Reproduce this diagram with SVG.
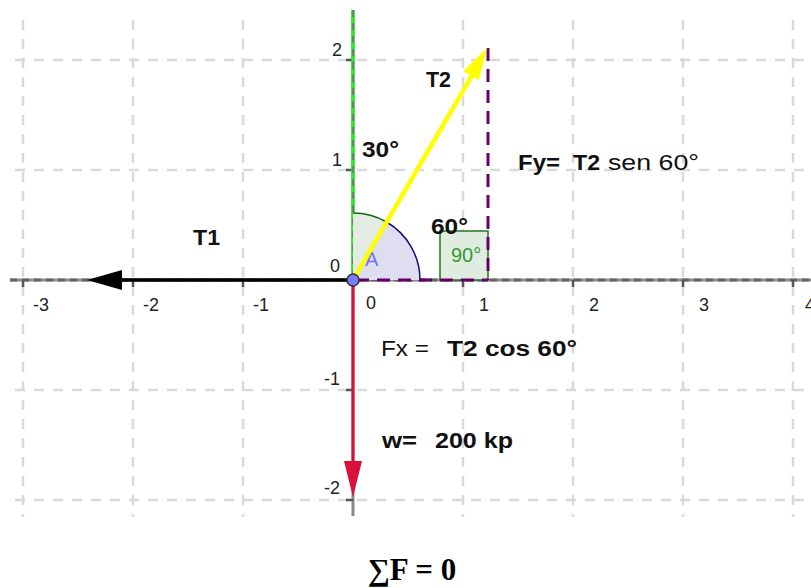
<svg xmlns="http://www.w3.org/2000/svg" width="811" height="588" viewBox="0 0 811 588">
<style>
.grid{stroke:#d9d9d9;stroke-width:2.5;stroke-dasharray:10 9;fill:none}
.axis{stroke:#8a8a8a;stroke-width:3;fill:none}
.axisd{stroke:#666;stroke-width:3;stroke-dasharray:7 5;fill:none}
.tick{stroke:#555;stroke-width:2.5}
.lbl{font-family:"Liberation Sans",Arial,sans-serif;font-size:18px;fill:#222}
.b{font-family:"Liberation Sans",Arial,sans-serif;font-size:22px;font-weight:bold;fill:#111}
.r{font-family:"Liberation Sans",Arial,sans-serif;font-size:22px;fill:#111}
.pur{stroke:#660066;stroke-width:3;stroke-dasharray:13 8;fill:none}
</style>
<rect width="811" height="588" fill="#fff"/>
<g id="grid">
<path class="grid" d="M23,20V517M133,20V517M243,20V517M463,20V517M573,20V517M683,20V517M793,20V517"/>
<path class="grid" d="M15,60H811M15,170H811M15,390H811M15,500H811"/>
</g>
<g id="axes">
<line class="axis" x1="10" y1="280" x2="811" y2="280"/>
<line class="axisd" x1="10" y1="280" x2="811" y2="280"/>
<line class="axis" x1="353" y1="10" x2="353" y2="516"/>
<path class="tick" d="M23,280V287M133,280V287M243,280V287M463,280V287M573,280V287M683,280V287M793,280V287M346,60H353M346,170H353M346,390H353M346,500H353"/>
<text class="lbl" x="33" y="311">-3</text>
<text class="lbl" x="143" y="311">-2</text>
<text class="lbl" x="253" y="311">-1</text>
<text class="lbl" x="366" y="309">0</text>
<text class="lbl" x="479" y="311">1</text>
<text class="lbl" x="589" y="311">2</text>
<text class="lbl" x="699" y="311">3</text>
<text class="lbl" x="805" y="311">4</text>
<text class="lbl" x="332" y="56">2</text>
<text class="lbl" x="332" y="166">1</text>
<text class="lbl" x="330" y="272">0</text>
<text class="lbl" x="324" y="385">-1</text>
<text class="lbl" x="324" y="494">-2</text>
</g>
<g id="greenline">
<line x1="353" y1="10" x2="353" y2="279" stroke="#22ee22" stroke-width="3.5"/>
<line x1="353" y1="10" x2="353" y2="279" stroke="#777" stroke-width="1.8" stroke-dasharray="7 6"/>
</g>
<g id="angleA">
<path d="M353,280L353,213A67,67 0 0 1 386.5,222Z" fill="#e3ebe3"/>
<path d="M353,280L386.5,222A67,67 0 0 1 420,280Z" fill="#dedef0"/>
<path d="M353,213A67,67 0 0 1 386.5,222" fill="none" stroke="#116611" stroke-width="1.5"/>
<path d="M386.5,222A67,67 0 0 1 420,280" fill="none" stroke="#10107a" stroke-width="1.5"/>
<text x="365" y="266" font-family="Liberation Sans,Arial,sans-serif" font-size="20" fill="#7070ff">A</text>
</g>
<g id="rightangle">
<rect x="440" y="231" width="48" height="49" fill="#e0ece0" stroke="#227722" stroke-width="1.5"/>
<text x="451" y="262" font-family="Liberation Sans,Arial,sans-serif" font-size="20" fill="#339933">90°</text>
</g>
<g id="connectors">
<line class="pur" x1="488" y1="48" x2="488" y2="280"/>
<line class="pur" x1="356" y1="280" x2="488" y2="280"/>
<g id="T1">
<line x1="353" y1="280" x2="118" y2="280" stroke="#000" stroke-width="3.5"/>
<polygon points="87,280 122,270 122,290" fill="#000"/>
</g>
<g id="W">
<line x1="353" y1="283" x2="353" y2="465" stroke="#d8103c" stroke-width="3"/>
<polygon points="344,461 362,461 353,497" fill="#d8103c"/>
</g>
<g id="T2">
<line x1="353" y1="280" x2="474" y2="72" stroke="#ffff00" stroke-width="4.5"/>
<polygon points="487,48 478.7,80.2 463.1,71.2" fill="#ffff00"/>
</g>
</g>
<g id="origin">
<circle cx="353" cy="280" r="6" fill="#7b7bff" stroke="#333" stroke-width="1.5"/>
</g>
<g id="labels">
<text class="b" x="426" y="87" textLength="25" lengthAdjust="spacingAndGlyphs">T2</text>
<text class="b" x="193" y="245" textLength="27" lengthAdjust="spacingAndGlyphs">T1</text>
<text class="b" x="362" y="157" textLength="37" lengthAdjust="spacingAndGlyphs">30°</text>
<text class="b" x="431" y="234" textLength="37" lengthAdjust="spacingAndGlyphs">60°</text>
<text class="b" x="518" y="170" textLength="42" lengthAdjust="spacingAndGlyphs">Fy=</text>
<text class="b" x="573" y="170" textLength="27" lengthAdjust="spacingAndGlyphs">T2</text>
<text class="r" x="608" y="170" textLength="91" lengthAdjust="spacingAndGlyphs">sen 60°</text>
<text class="r" x="381" y="356" textLength="48" lengthAdjust="spacingAndGlyphs">Fx =</text>
<text class="b" x="447" y="356" textLength="130" lengthAdjust="spacingAndGlyphs">T2 cos 60°</text>
<text class="b" x="382" y="448" textLength="35" lengthAdjust="spacingAndGlyphs">w=</text>
<text class="b" x="435" y="448" textLength="78" lengthAdjust="spacingAndGlyphs">200 kp</text>
<text x="412" y="580" text-anchor="middle" font-family="Liberation Serif,'DejaVu Serif',serif" font-size="31" font-weight="bold" fill="#000">∑F = 0</text>
</g>
</svg>
